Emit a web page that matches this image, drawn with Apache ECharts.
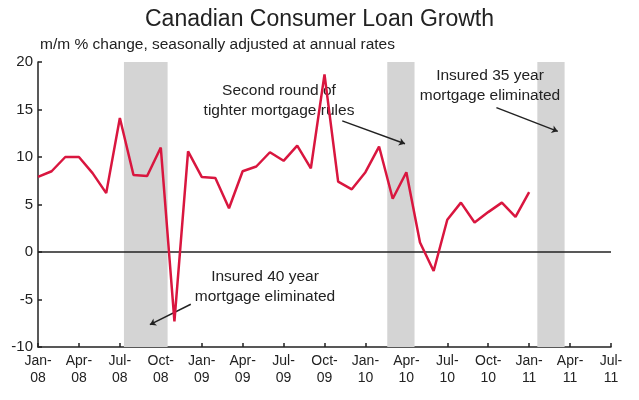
<!DOCTYPE html>
<html>
<head>
<meta charset="utf-8">
<script src="https://cdn.jsdelivr.net/npm/echarts@6/dist/echarts.min.js"></script>
<style>
  html, body { margin: 0; padding: 0; background: #fff; }
  #chart { width: 639px; height: 400px; }
</style>
</head>
<body>
<div id="chart"></div>
<script>
// Monthly consumer loan growth, Jan-08 .. Jan-11 (month index 0 = Jan-08)
const growth = [
  7.9, 8.5, 10.0, 10.0, 8.3, 6.2, 14.1, 8.1, 8.0, 11.0, -7.3, 10.6,
  7.9, 7.8, 4.6, 8.5, 9.0, 10.5, 9.6, 11.2, 8.8, 18.7, 7.4, 6.6,
  8.4, 11.1, 5.6, 8.4, 1.0, -2.0, 3.4, 5.2, 3.1, 4.2, 5.2, 3.7, 6.3
];

// Quarterly tick labels on the month axis
const tickLabels = [
  'Jan-\n08', 'Apr-\n08', 'Jul-\n08', 'Oct-\n08',
  'Jan-\n09', 'Apr-\n09', 'Jul-\n09', 'Oct-\n09',
  'Jan-\n10', 'Apr-\n10', 'Jul-\n10', 'Oct-\n10',
  'Jan-\n11', 'Apr-\n11', 'Jul-\n11'
];

// Shaded policy-change periods, as [start, end] month indexes
const shadedPeriods = [[6.3, 9.5], [25.6, 27.6], [36.6, 38.6]];

// Annotation arrows: [fromMonth, fromValue, toMonth, toValue]
const arrows = [
  [22.3, 13.8, 26.9, 11.4],
  [33.6, 15.2, 38.1, 12.7],
  [11.2, -5.5, 8.2, -7.65]
];

const lineData = growth.map((v, i) => [i, v]);

const chart = echarts.init(document.getElementById('chart'), null, { renderer: 'canvas' });

const font = 'Liberation Sans, Arial, Helvetica, sans-serif';

// Centered two-line annotation text; drawn above the shading, below the line
function note(text, cx, top) {
  return {
    type: 'text', x: cx, y: top, z: 3,
    style: {
      text: text, font: '15.5px ' + font, fill: '#222',
      align: 'center', verticalAlign: 'top', lineHeight: 20.5
    }
  };
}

chart.setOption({
  animation: false,
  backgroundColor: '#fff',
  title: {
    text: 'Canadian Consumer Loan Growth',
    left: 'center',
    top: 3,
    textStyle: { fontFamily: font, fontSize: 23, fontWeight: 'normal', color: '#222' }
  },
  graphic: [
    {
      type: 'text', x: 40, y: 37, z: 3,
      style: { text: 'm/m % change, seasonally adjusted at annual rates', font: '15.5px ' + font, fill: '#222' }
    },
    note('Second round of\ntighter mortgage rules', 279, 80),
    note('Insured 35 year\nmortgage eliminated', 490, 65),
    note('Insured 40 year\nmortgage eliminated', 265, 266)
  ],
  grid: { left: 38, right: 28, top: 62, bottom: 53, containLabel: false },
  xAxis: {
    type: 'value',
    min: 0, max: 42, interval: 3,
    axisLine: { show: true, onZero: false, lineStyle: { color: '#222', width: 1.5 } },
    axisTick: { show: true, inside: true, length: 4, lineStyle: { color: '#222', width: 1.5 } },
    splitLine: { show: false },
    axisLabel: {
      color: '#222', fontFamily: font, fontSize: 14, lineHeight: 17, margin: 6,
      formatter: v => tickLabels[Math.round(v / 3)] || ''
    }
  },
  yAxis: {
    type: 'value',
    min: -10, max: 20, interval: 5,
    axisLine: { show: true, onZero: false, lineStyle: { color: '#222', width: 1.5 } },
    axisTick: { show: true, inside: true, length: 4, lineStyle: { color: '#222', width: 1.5 } },
    splitLine: { show: false },
    axisLabel: { color: '#222', fontFamily: font, fontSize: 15, margin: 5 }
  },
  series: [
    {
      type: 'line',
      data: lineData,
      symbol: 'none',
      lineStyle: { color: '#d9163f', width: 2.5 },
      z: 5,
      markArea: {
        silent: true,
        z: 1,
        itemStyle: { color: '#d4d4d4' },
        data: shadedPeriods.map(p => [{ xAxis: p[0], yAxis: 20 }, { xAxis: p[1], yAxis: -10 }])
      },
      markLine: {
        silent: true,
        animation: false,
        z: 4,
        label: { show: false },
        data: [
          [
            { coord: [0, 0], symbol: 'none', lineStyle: { color: '#222', width: 1.5, type: 'solid' } },
            { coord: [42, 0], symbol: 'none' }
          ]
        ].concat(arrows.map(a => [
          { coord: [a[0], a[1]], symbol: 'none', lineStyle: { color: '#222', width: 1.5, type: 'solid' } },
          { coord: [a[2], a[3]], symbol: 'arrow', symbolSize: 6 }
        ]))
      }
    }
  ]
});
</script>
</body>
</html>
